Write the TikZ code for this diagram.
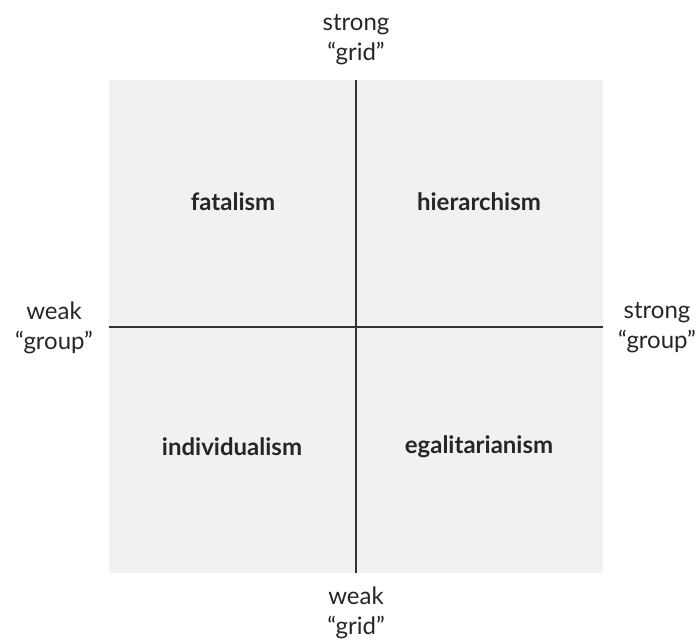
\documentclass[tikz,border=0pt]{standalone}
\usepackage{fontspec}
\setmainfont{Lato}
\begin{document}
\begin{tikzpicture}[x=1pt,y=-1pt,
  axis/.style={draw=black!80, line width=1.6pt},
  quad/.style={font=\fontsize{24}{24}\selectfont\bfseries, text=black!85},
  axlabel/.style={font=\fontsize{24}{30}\selectfont, text=black!85, align=center, inner sep=0pt}]
\useasboundingbox (0,0) rectangle (700,641);
\fill[fill={rgb,255:red,240;green,241;blue,243}] (109,80) rectangle (603,573);
\coordinate (T) at (356,80);
\coordinate (B) at (356,573);
\coordinate (L) at (109,327);
\coordinate (R) at (603,327);
\draw[axis] (T) -- (B);
\draw[axis] (L) -- (R);
\node[quad] (fat) at (233,202) {fatalism};
\node[quad] (hier) at (479,202) {hierarchism};
\node[quad] (ind) at (232,447) {individualism};
\node[quad] (ega) at (479,447) {egalitarianism};
\node[axlabel] (top) at (356,39.5) {strong\\“grid”};
\node[axlabel] (bot) at (356,613) {weak\\“grid”};
\node[axlabel] (lft) at (54,328) {weak\\“group”};
\node[axlabel] (rgt) at (657,328) {strong\\“group”};
\end{tikzpicture}
\end{document}
